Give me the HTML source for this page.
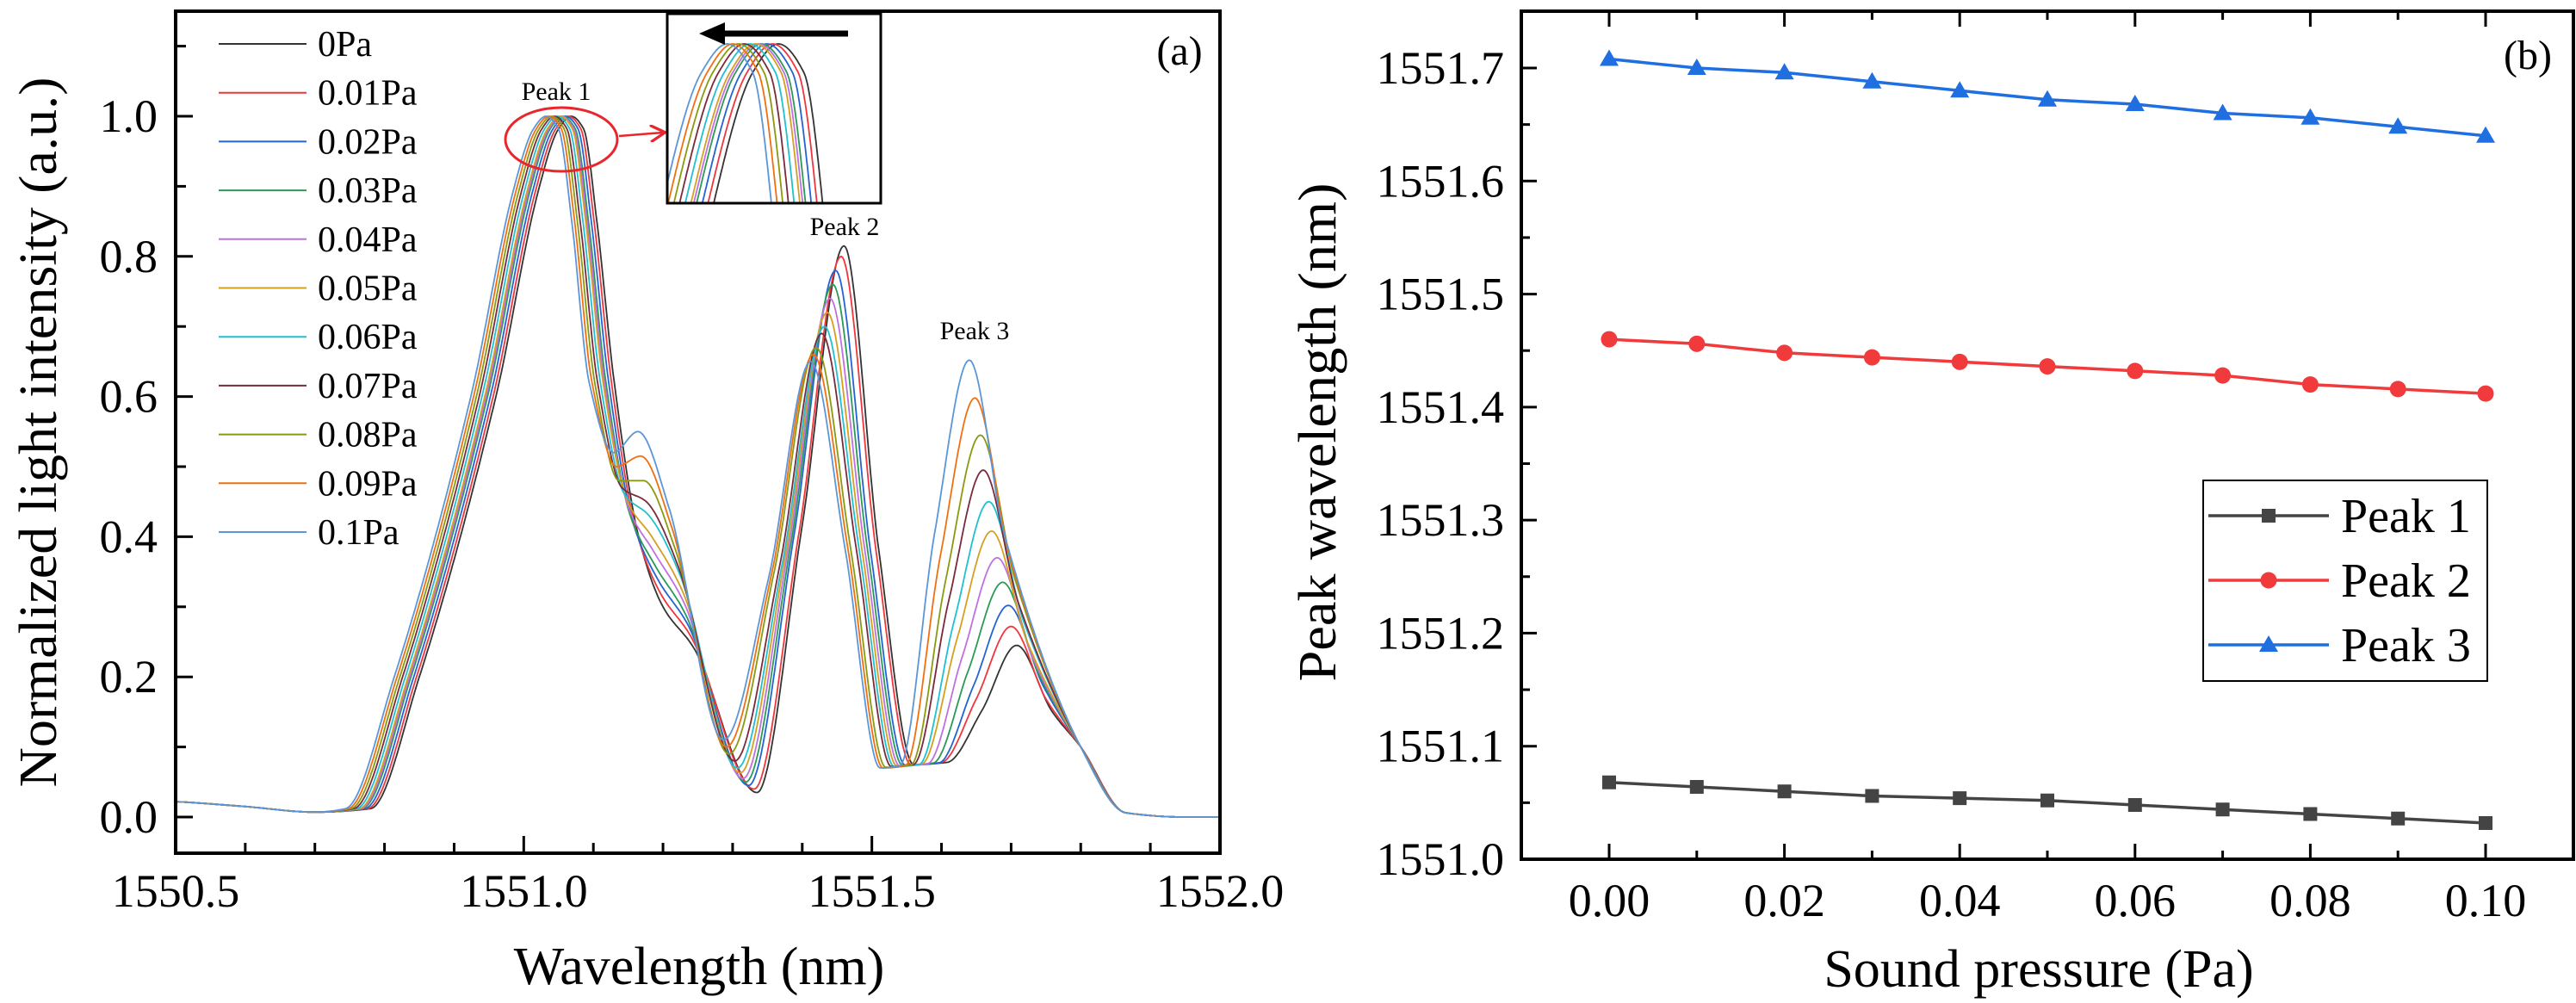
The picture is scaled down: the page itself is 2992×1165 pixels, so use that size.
<!DOCTYPE html>
<html><head><meta charset="utf-8"><style>
html,body{margin:0;padding:0;background:#fff;overflow:hidden}
svg{display:block;width:100vw;height:auto}
text{font-family:"Liberation Serif","DejaVu Serif",serif}
</style></head><body>
<svg id="fig" viewBox="0 0 2992 1165" preserveAspectRatio="xMinYMin meet" xmlns="http://www.w3.org/2000/svg">
<defs>
<clipPath id="clipA"><rect x="204" y="13" width="1213" height="978"/></clipPath>
<clipPath id="clipI"><rect x="775" y="16" width="248" height="220"/></clipPath>
<marker id="redhead" markerWidth="8" markerHeight="8" refX="6" refY="4" orient="auto" markerUnits="strokeWidth"><path d="M0,0 L7,4 L0,8" fill="none" stroke="#e8262b" stroke-width="1.3"/></marker>
</defs>
<rect x="0" y="0" width="2992" height="1165" fill="#fff"/>
<g id="panelA"></g>
<g id="panelB"></g>
</svg>
<script>
// ---------- Panel (a) data ----------
const seriesLabels = ["0Pa","0.01Pa","0.02Pa","0.03Pa","0.04Pa","0.05Pa","0.06Pa","0.07Pa","0.08Pa","0.09Pa","0.1Pa"];
const seriesColors = ["#333333","#f0363c","#2463d2","#2a9a55","#c070e0","#d4a020","#20c0d0","#7a2a3a","#8a9a10","#f07010","#5a96d8"];
const peak1X = [1551.068,1551.064,1551.060,1551.056,1551.054,1551.052,1551.048,1551.044,1551.040,1551.036,1551.032];
const peak2X = [1551.460,1551.456,1551.448,1551.444,1551.440,1551.436,1551.432,1551.428,1551.420,1551.416,1551.412];
const peak3X = [1551.708,1551.700,1551.696,1551.688,1551.680,1551.672,1551.668,1551.660,1551.656,1551.648,1551.640];
const peak2Y = [0.815,0.80,0.78,0.76,0.74,0.72,0.70,0.69,0.67,0.66,0.65];
const peak3Y = [0.245,0.272,0.302,0.335,0.37,0.408,0.45,0.495,0.545,0.598,0.652];
const dipY = [0.40,0.41,0.42,0.43,0.44,0.45,0.46,0.47,0.48,0.50,0.52];
const shoulderY = [0.30,0.32,0.34,0.36,0.38,0.40,0.43,0.45,0.48,0.515,0.55];
const trough1Y = [0.035,0.04,0.045,0.05,0.055,0.063,0.07,0.08,0.09,0.10,0.11];
const valleyY = [0.075,0.075,0.074,0.074,0.073,0.073,0.072,0.072,0.071,0.070,0.070];
const xTicksA = [1550.5,1551.0,1551.5,1552.0];
const yTicksA = [0.0,0.2,0.4,0.6,0.8,1.0];
// ---------- Panel (b) data ----------
const pressure = [0,0.01,0.02,0.03,0.04,0.05,0.06,0.07,0.08,0.09,0.10];
const peak1Wl = [1551.068,1551.064,1551.060,1551.056,1551.054,1551.052,1551.048,1551.044,1551.040,1551.036,1551.032];
const peak2Wl = [1551.460,1551.456,1551.448,1551.444,1551.440,1551.436,1551.432,1551.428,1551.420,1551.416,1551.412];
const peak3Wl = [1551.708,1551.700,1551.696,1551.688,1551.680,1551.672,1551.668,1551.660,1551.656,1551.648,1551.640];
const xTicksB = [0.00,0.02,0.04,0.06,0.08,0.10];
const yTicksB = [1551.0,1551.1,1551.2,1551.3,1551.4,1551.5,1551.6,1551.7];

const NS="http://www.w3.org/2000/svg";
function mk(tag,attrs,parent){const e=document.createElementNS(NS,tag);for(const k in attrs)e.setAttribute(k,attrs[k]);if(parent)parent.appendChild(e);return e;}
function txt(s,attrs,parent){const e=mk('text',attrs,parent);e.style.fontFamily='"Liberation Serif","DejaVu Serif",serif';e.textContent=s;return e;}

function monoInterp(xs,ys){
  const n=xs.length,d=[],m=[];
  for(let i=0;i<n-1;i++)d.push((ys[i+1]-ys[i])/(xs[i+1]-xs[i]));
  m[0]=d[0];m[n-1]=d[n-2];
  for(let i=1;i<n-1;i++){ if(d[i-1]*d[i]<=0)m[i]=0; else m[i]=2/(1/d[i-1]+1/d[i]); }
  return function(x){
    let i=0;while(i<n-2&&x>xs[i+1])i++;
    const h=xs[i+1]-xs[i],t=(x-xs[i])/h,t2=t*t,t3=t2*t;
    return (2*t3-3*t2+1)*ys[i]+(t3-2*t2+t)*h*m[i]+(-2*t3+3*t2)*ys[i+1]+(t3-t2)*h*m[i+1];
  };
}
function keyPoints(i){
  const d=peak1X[i]-1551.068,p2=peak2X[i],p3=peak3X[i];
  return [
    [1550.45,0.024],[1550.5,0.022],[1550.6,0.015],[1550.7,0.007],[1550.78+d,0.012],[1550.85+d,0.2],[1550.96+d,0.6],
    [1551.02+d,0.89],[1551.05+d,0.982],[peak1X[i],1.0],[1551.086+d,0.982],[1551.105+d,0.85],[1551.13+d,0.62],[1551.165+d,dipY[i]],[1551.2+d,shoulderY[i]],
    [1551.245+d,shoulderY[i]*0.8],[p2-0.125,trough1Y[i]],[p2-0.06,0.45*peak2Y[i]+0.05],[p2,peak2Y[i]],[p2+0.05,0.38],
    [p2+0.1,valleyY[i]],[p3-0.1,valleyY[i]+0.003],[p3-0.05,peak3Y[i]*0.62],[p3,peak3Y[i]],[p3+0.05,peak3Y[i]*0.62],
    [1551.80,0.1],[1551.865,0.006],[1551.95,0.0],[1552.05,0.0]];
}

// ---------- Panel (a) ----------
(function(){
  const g=document.getElementById('panelA');
  const L=204,R=1417,T=13,B=991;
  const X=w=>L+(w-1550.5)/1.5*(R-L);
  const Y=v=>949-v*814;
  const curves=mk('g',{'clip-path':'url(#clipA)'},g);
  
  
  const fns=[];
  for(let i=0;i<seriesLabels.length;i++){
    const kp=keyPoints(i);const f=monoInterp(kp.map(p=>p[0]),kp.map(p=>p[1]));fns.push(f);
    let dstr='';for(let w=1550.5;w<=1552.0001;w+=0.002){dstr+=(dstr?'L':'M')+X(w).toFixed(1)+','+Y(f(w)).toFixed(1);}
    const p=mk('path',{d:dstr,fill:'none',stroke:seriesColors[i],'stroke-width':1.8},curves);
    
    
  }
  const fr=mk('rect',{x:L,y:T,width:R-L,height:B-T,fill:'none',stroke:'#000','stroke-width':4},g);
  
  
  for(let k=0;k<=15;k++){const w=1550.5+k*0.1;const x=X(w);const len=(k%5===0)?20:12;mk('line',{x1:x,y1:B,x2:x,y2:B-len,stroke:'#000','stroke-width':3},g);}
  xTicksA.forEach(v=>{const t=txt(v.toFixed(1),{x:X(v),y:1053,'font-size':54,'text-anchor':'middle'},g);});
  for(let k=0;k<=11;k++){const v=k*0.1;const y=Y(v);if(y<T)continue;const len=(k%2===0)?20:12;mk('line',{x1:L,y1:y,x2:L+len,y2:y,stroke:'#000','stroke-width':3},g);}
  yTicksA.forEach(v=>{const t=txt(v.toFixed(1),{x:183,y:Y(v)+18,'font-size':54,'text-anchor':'end'},g);});
  let t=txt('Wavelength (nm)',{x:812,y:1143,'font-size':62,'text-anchor':'middle'},g);
  
  t=txt('Normalized light intensity (a.u.)',{x:0,y:0,'font-size':62,'text-anchor':'middle',textLength:825,lengthAdjust:'spacingAndGlyphs',transform:'translate(65,502) rotate(-90)'},g);
  
  t=txt('(a)',{x:1370,y:75,'font-size':48,'text-anchor':'middle'},g);
  
  [['Peak 1',646,116],['Peak 2',981,273],['Peak 3',1132,394]].forEach(a=>{const e=txt(a[0],{x:a[1],y:a[2],'font-size':30,'text-anchor':'middle'},g);});
  const lg=mk('g',{},g);
  for(let i=0;i<seriesLabels.length;i++){
    const y=51+i*56.7;
    const ent=mk('g',{},lg);
    mk('line',{x1:254,y1:y,x2:356,y2:y,stroke:seriesColors[i],'stroke-width':2},ent);
    txt(seriesLabels[i],{x:369,y:y+14,'font-size':42},ent);
  }
  const el=mk('ellipse',{cx:652,cy:162,rx:65,ry:37,fill:'none',stroke:'#e8262b','stroke-width':3},g);
  
  const ar=mk('line',{x1:719,y1:158,x2:770,y2:154,stroke:'#e8262b','stroke-width':2.5,'marker-end':'url(#redhead)'},g);
  
  const ins=mk('g',{},g);
  mk('rect',{x:775,y:16,width:248,height:220,fill:'#fff'},ins);
  const ic=mk('g',{'clip-path':'url(#clipI)'},ins);
  const IX=w=>775+(w-1550.99)/(1551.14-1550.99)*248;
  const IY=v=>51+(1.0-v)/(1.0-0.90)*185;
  for(let i=0;i<fns.length;i++){
    let dstr='';for(let w=1550.99;w<=1551.14;w+=0.0005){dstr+=(dstr?'L':'M')+IX(w).toFixed(1)+','+IY(fns[i](w)).toFixed(1);}
    const p=mk('path',{d:dstr,fill:'none',stroke:seriesColors[i],'stroke-width':1.8},ic);
    
  }
  mk('rect',{x:775,y:16,width:248,height:220,fill:'none',stroke:'#000','stroke-width':3},ins);
  mk('line',{x1:985,y1:39,x2:830,y2:39,stroke:'#000','stroke-width':7},ins);
  mk('path',{d:'M812,39 L842,26 L842,52 Z',fill:'#000'},ins);
})();

// ---------- Panel (b) ----------
(function(){
  const g=document.getElementById('panelB');
  const L=1767,R=2989,T=13,B=998;
  const X=p=>1869+p/0.1*1018;
  const Y=v=>B-(v-1551.0)/0.7*919;
  const fr=mk('rect',{x:L,y:T,width:R-L,height:B-T,fill:'none',stroke:'#000','stroke-width':4},g);
  
  for(let k=0;k<=10;k++){const x=X(k*0.01);const len=(k%2===0)?18:10;
    mk('line',{x1:x,y1:B,x2:x,y2:B-len,stroke:'#000','stroke-width':3},g);
    mk('line',{x1:x,y1:T,x2:x,y2:T+len,stroke:'#000','stroke-width':3},g);}
  xTicksB.forEach(v=>{const t=txt(v.toFixed(2),{x:X(v),y:1064,'font-size':54,'text-anchor':'middle'},g);});
  for(let k=0;k<=14;k++){const v=1551+k*0.05;const y=Y(v);const len=(k%2===0)?18:10;mk('line',{x1:L,y1:y,x2:L+len,y2:y,stroke:'#000','stroke-width':3},g);}
  yTicksB.forEach(v=>{const t=txt(v.toFixed(1),{x:1747,y:Y(v)+18,'font-size':54,'text-anchor':'end'},g);});
  let t=txt('Sound pressure (Pa)',{x:2368,y:1146,'font-size':62,'text-anchor':'middle'},g);
  
  t=txt('Peak wavelength (nm)',{x:0,y:0,'font-size':62,'text-anchor':'middle',textLength:579,lengthAdjust:'spacingAndGlyphs',transform:'translate(1551,502) rotate(-90)'},g);
  
  t=txt('(b)',{x:2936,y:80,'font-size':48,'text-anchor':'middle'},g);
  
  const series=[[peak1Wl,'#444444','square','Peak 1'],[peak2Wl,'#f03a3c','circle','Peak 2'],[peak3Wl,'#1f6fe0','triangle','Peak 3']];
  function marker(par,shape,x,y,c){
    if(shape==='square')return mk('rect',{x:x-8,y:y-8,width:16,height:16,fill:c},par);
    if(shape==='circle')return mk('circle',{cx:x,cy:y,r:9.5,fill:c},par);
    return mk('path',{d:`M${x},${y-11} L${x+11},${y+8} L${x-11},${y+8} Z`,fill:c},par);
  }
  series.forEach(s=>{
    const sg=mk('g',{},g);
    
    
    const pts=pressure.map((p,i)=>X(p).toFixed(1)+','+Y(s[0][i]).toFixed(1)).join(' ');
    mk('polyline',{points:pts,fill:'none',stroke:s[1],'stroke-width':3.5},sg);
    pressure.forEach((p,i)=>{const m=marker(sg,s[2],X(p),Y(s[0][i]),s[1]);
      
      });
  });
  const lg=mk('g',{},g);
  mk('rect',{x:2559,y:558,width:330,height:233,fill:'#fff',stroke:'#000','stroke-width':2},lg);
  series.forEach((s,i)=>{
    const y=599+i*75;
    const ent=mk('g',{},lg);
    mk('line',{x1:2565,y1:y,x2:2705,y2:y,stroke:s[1],'stroke-width':3.5},ent);
    marker(ent,s[2],2635,y,s[1]);
    txt(s[3],{x:2719,y:y+19,'font-size':56},ent);
  });
})();
</script>
</body></html>
